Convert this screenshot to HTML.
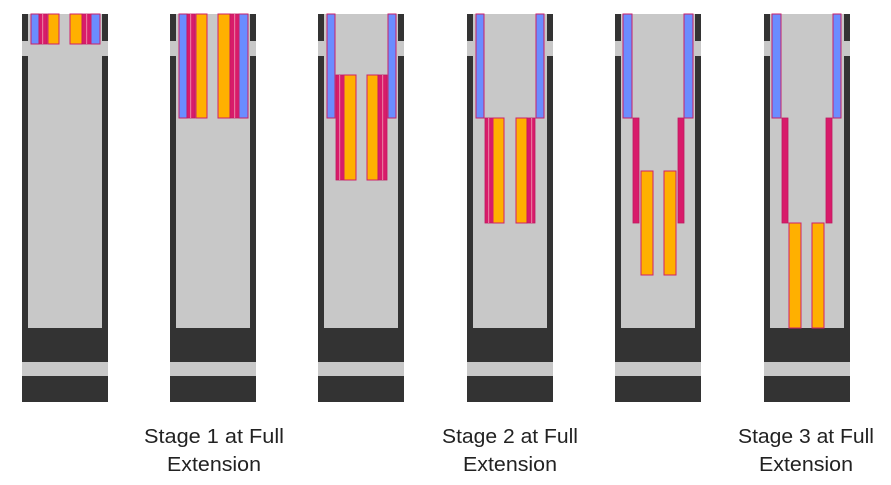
<!DOCTYPE html>
<html><head><meta charset="utf-8"><style>
html,body{margin:0;padding:0;background:#fff;width:891px;height:485px;overflow:hidden}
svg{display:block}
text{font-family:"Liberation Sans",sans-serif;font-size:20px;fill:#222}
.b{fill:#6b8cff;stroke:#c8206a;stroke-width:1}
.o{fill:#ffb000;stroke:#d0206a;stroke-width:1}
.m{fill:#d81b6a;stroke:#c01860;stroke-width:0.8}
.s{fill:#e8739c}
.d{fill:#333}
.g{fill:#c8c8c8}
</style></head><body>
<svg width="891" height="485" viewBox="0 0 891 485" xmlns="http://www.w3.org/2000/svg">
<defs>
<g id="col">
<rect x="0" y="14" width="86" height="388" class="g"/>
<rect x="0" y="14" width="6" height="27" class="d"/>
<rect x="80" y="14" width="6" height="27" class="d"/>
<rect x="0" y="56" width="6" height="272" class="d"/>
<rect x="80" y="56" width="6" height="272" class="d"/>
<rect x="0" y="328" width="86" height="34" class="d"/>
<rect x="0" y="376" width="86" height="26" class="d"/>
</g>
</defs>
<use href="#col" x="22"/>
<use href="#col" x="170"/>
<use href="#col" x="318"/>
<use href="#col" x="467"/>
<use href="#col" x="615"/>
<use href="#col" x="764"/>

<!-- col1 -->
<rect class="b" x="31" y="14" width="8" height="30"/>
<rect class="m" x="39" y="14" width="8" height="30"/><rect class="s" x="42" y="14" width="1.2" height="30"/>
<rect class="o" x="48" y="14" width="11" height="30"/>
<rect class="o" x="70" y="14" width="12" height="30"/>
<rect class="m" x="82" y="14" width="9" height="30"/><rect class="s" x="86" y="14" width="1.2" height="30"/>
<rect class="b" x="91" y="14" width="9" height="30"/>

<!-- col2 -->
<rect class="b" x="179" y="14" width="8" height="104"/>
<rect class="m" x="187" y="14" width="8" height="104"/><rect class="s" x="190" y="14" width="1.2" height="104"/>
<rect class="o" x="196" y="14" width="11" height="104"/>
<rect class="o" x="218" y="14" width="12" height="104"/>
<rect class="m" x="230" y="14" width="9" height="104"/><rect class="s" x="234" y="14" width="1.2" height="104"/>
<rect class="b" x="239" y="14" width="9" height="104"/>

<!-- col3 -->
<rect class="b" x="327" y="14" width="8" height="104"/>
<rect class="m" x="336" y="75" width="8" height="105"/><rect class="s" x="339" y="75" width="1.2" height="105"/>
<rect class="o" x="344" y="75" width="12" height="105"/>
<rect class="o" x="367" y="75" width="11" height="105"/>
<rect class="m" x="378" y="75" width="9" height="105"/><rect class="s" x="382" y="75" width="1.2" height="105"/>
<rect class="b" x="388" y="14" width="8" height="104"/>

<!-- col4 -->
<rect class="b" x="476" y="14" width="8" height="104"/>
<rect class="m" x="485" y="118" width="8" height="105"/><rect class="s" x="488" y="118" width="1.2" height="105"/>
<rect class="o" x="493" y="118" width="11" height="105"/>
<rect class="o" x="516" y="118" width="11" height="105"/>
<rect class="m" x="527" y="118" width="8" height="105"/><rect class="s" x="531" y="118" width="1.2" height="105"/>
<rect class="b" x="536" y="14" width="8" height="104"/>

<!-- col5 -->
<rect class="b" x="623" y="14" width="9" height="104"/>
<rect class="m" x="633" y="118" width="6" height="105"/>
<rect class="o" x="641" y="171" width="12" height="104"/>
<rect class="o" x="664" y="171" width="12" height="104"/>
<rect class="m" x="678" y="118" width="6" height="105"/>
<rect class="b" x="684" y="14" width="9" height="104"/>

<!-- col6 -->
<rect class="b" x="772" y="14" width="9" height="104"/>
<rect class="m" x="782" y="118" width="6" height="105"/>
<rect class="o" x="789" y="223" width="12" height="105"/>
<rect class="o" x="812" y="223" width="12" height="105"/>
<rect class="m" x="826" y="118" width="6" height="105"/>
<rect class="b" x="833" y="14" width="8" height="104"/>

<text x="214" y="443" text-anchor="middle" textLength="140" lengthAdjust="spacingAndGlyphs">Stage 1 at Full</text>
<text x="214" y="471" text-anchor="middle" textLength="94" lengthAdjust="spacingAndGlyphs">Extension</text>
<text x="510" y="443" text-anchor="middle" textLength="136" lengthAdjust="spacingAndGlyphs">Stage 2 at Full</text>
<text x="510" y="471" text-anchor="middle" textLength="94" lengthAdjust="spacingAndGlyphs">Extension</text>
<text x="806" y="443" text-anchor="middle" textLength="136" lengthAdjust="spacingAndGlyphs">Stage 3 at Full</text>
<text x="806" y="471" text-anchor="middle" textLength="94" lengthAdjust="spacingAndGlyphs">Extension</text>
</svg>
</body></html>
